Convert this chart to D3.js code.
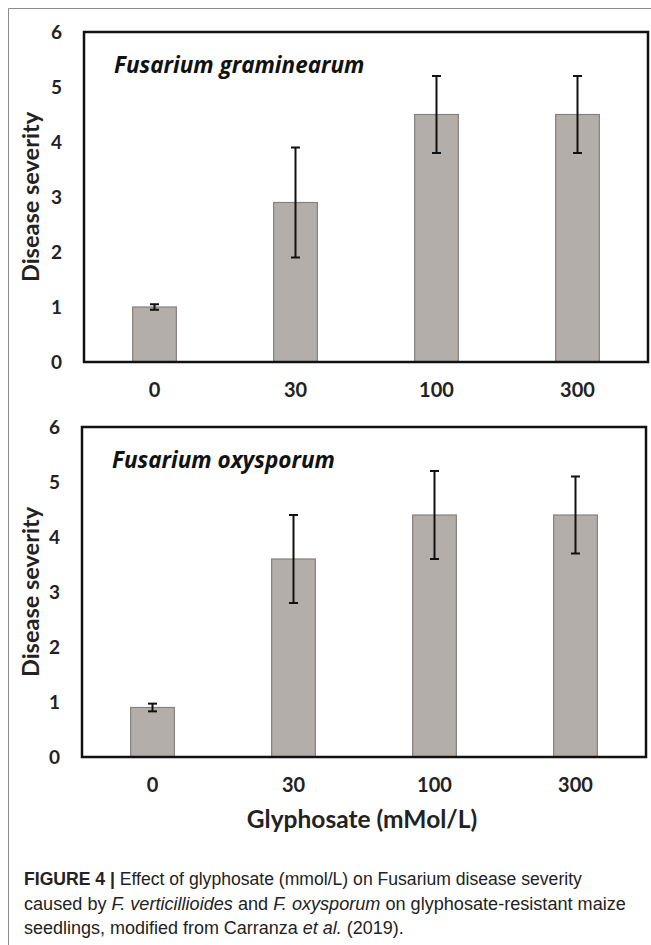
<!DOCTYPE html>
<html>
<head>
<meta charset="utf-8">
<script src="https://cdn.jsdelivr.net/npm/d3@7"></script>
<style>
  body { margin: 0; background: #fff; }
  svg text { font-family: Lato, "Open Sans", sans-serif; }
</style>
</head>
<body>
<svg id="fig" width="651" height="945"></svg>
<script>
// glyphosate doses (x categories)
var doses = ["0", "30", "100", "300"];
var yTicks = [0, 1, 2, 3, 4, 5, 6];

// Fusarium graminearum
var gramMean = [1.0, 2.9, 4.5, 4.5];
var gramErr = [0.05, 1.0, 0.7, 0.7];

// Fusarium oxysporum
var oxyMean = [0.9, 3.6, 4.4, 4.4];
var oxyErr = [0.07, 0.8, 0.8, 0.7];

var svg = d3.select('#fig');

// outer figure frame
svg.append('path')
    .attr('d', 'M8.5,945 V8.5 H651')
    .attr('fill', 'none')
    .attr('stroke', '#8c8c8c')
    .attr('stroke-width', 1);

function drawPanel(box, title, means, errs) {
    var x = d3.scaleBand()
        .domain(doses)
        .range([box.left, box.right])
        .paddingInner(0.69)
        .paddingOuter(0.345);

    var y = d3.scaleLinear()
        .domain([0, 6])
        .range([box.bottom, box.top]);

    var data = doses.map((d, i) => ({ dose: d, mean: means[i], err: errs[i] }));

    var g = svg.append('g');

    // bars
    g.selectAll('.bar')
        .data(data)
        .enter()
        .append('rect')
        .attr('class', 'bar')
        .attr('x', d => x(d.dose))
        .attr('y', d => y(d.mean))
        .attr('width', x.bandwidth())
        .attr('height', d => y(0) - y(d.mean))
        .attr('fill', '#b3aeaa')
        .attr('stroke', '#85807c')
        .attr('stroke-width', 1.2);

    // error bars
    var eb = g.selectAll('.err')
        .data(data)
        .enter()
        .append('g')
        .attr('class', 'err')
        .attr('stroke', '#111')
        .attr('stroke-width', 2);

    eb.append('line')
        .attr('x1', d => x(d.dose) + x.bandwidth() / 2)
        .attr('x2', d => x(d.dose) + x.bandwidth() / 2)
        .attr('y1', d => y(d.mean + d.err))
        .attr('y2', d => y(d.mean - d.err));

    [1, -1].forEach(s => {
        eb.append('line')
            .attr('x1', d => x(d.dose) + x.bandwidth() / 2 - 4.5)
            .attr('x2', d => x(d.dose) + x.bandwidth() / 2 + 4.5)
            .attr('y1', d => y(d.mean + s * d.err))
            .attr('y2', d => y(d.mean + s * d.err));
    });

    // plot box
    g.append('rect')
        .attr('x', box.left)
        .attr('y', box.top)
        .attr('width', box.right - box.left)
        .attr('height', box.bottom - box.top)
        .attr('fill', 'none')
        .attr('stroke', '#111')
        .attr('stroke-width', 2.5);

    // y tick labels
    var yAxis = g.append('g')
        .attr('transform', 'translate(' + (box.left - 20) + ',0)')
        .call(d3.axisLeft(y).tickValues(yTicks).tickSize(0).tickFormat(d3.format('d')));
    yAxis.select('.domain').remove();
    yAxis.selectAll('text')
        .attr('x', -2)
        .attr('dy', '0.35em')
        .attr('fill', '#222')
        .style('font-size', '19px')
        .style('font-weight', 'bold')
        .style('font-family', 'Lato, sans-serif');

    // x tick labels
    var xAxis = g.append('g')
        .attr('transform', 'translate(0,' + (box.bottom + 28) + ')')
        .call(d3.axisBottom(x).tickSize(0));
    xAxis.select('.domain').remove();
    xAxis.selectAll('text')
        .attr('y', 0)
        .attr('dy', '0.35em')
        .attr('fill', '#222')
        .style('font-size', '20px')
        .style('font-weight', 'bold')
        .style('font-family', 'Lato, sans-serif');

    // y axis title
    g.append('text')
        .attr('transform', 'translate(' + 39 + ',' + ((box.top + box.bottom) / 2) + ') rotate(-90)')
        .attr('text-anchor', 'middle')
        .attr('fill', '#222')
        .style('font-size', '23.5px')
        .style('font-weight', 'bold')
        .text('Disease severity');

    // panel title
    g.append('text')
        .attr('x', box.left + 30)
        .attr('y', box.top + 41)
        .attr('fill', '#111')
        .style('font-family', '"Open Sans", sans-serif')
        .style('font-size', '22.5px')
        .style('font-weight', 'bold')
        .style('font-style', 'italic')
        .text(title);

    return x;
}

drawPanel({ left: 84, right: 648, top: 32, bottom: 362 }, 'Fusarium graminearum', gramMean, gramErr);
drawPanel({ left: 82, right: 646, top: 427, bottom: 757 }, 'Fusarium oxysporum', oxyMean, oxyErr);

// x axis title
svg.append('text')
    .attr('x', 362)
    .attr('y', 828)
    .attr('text-anchor', 'middle')
    .attr('fill', '#222')
    .style('font-size', '24.5px')
    .style('font-weight', 'bold')
    .text('Glyphosate (mMol/L)');

// caption
var capLines = [
    [['FIGURE 4 | ', 'b'], ['Effect of glyphosate (mmol/L) on Fusarium disease severity', '']],
    [['caused by ', ''], ['F. verticillioides', 'i'], [' and ', ''], ['F. oxysporum', 'i'], [' on glyphosate-resistant maize', '']],
    [['seedlings, modified from Carranza ', ''], ['et al.', 'i'], [' (2019).', '']]
];
var capWidths = [558, 602, 380];

capLines.forEach((line, i) => {
    var cg = svg.append('g');
    var t = cg.append('text')
        .attr('x', 0)
        .attr('y', 0)
        .attr('fill', '#222')
        .style('font-family', '"Liberation Sans", sans-serif')
        .style('font-size', '18.5px');
    line.forEach(p => {
        t.append('tspan')
            .style('font-weight', p[1] === 'b' ? 'bold' : 'normal')
            .style('font-style', p[1] === 'i' ? 'italic' : 'normal')
            .text(p[0]);
    });
    var w = t.node().getComputedTextLength();
    cg.attr('transform', 'translate(24,' + (885 + i * 24.5) + ') scale(' + (capWidths[i] / w) + ',1)');
});
</script>
</body>
</html>
